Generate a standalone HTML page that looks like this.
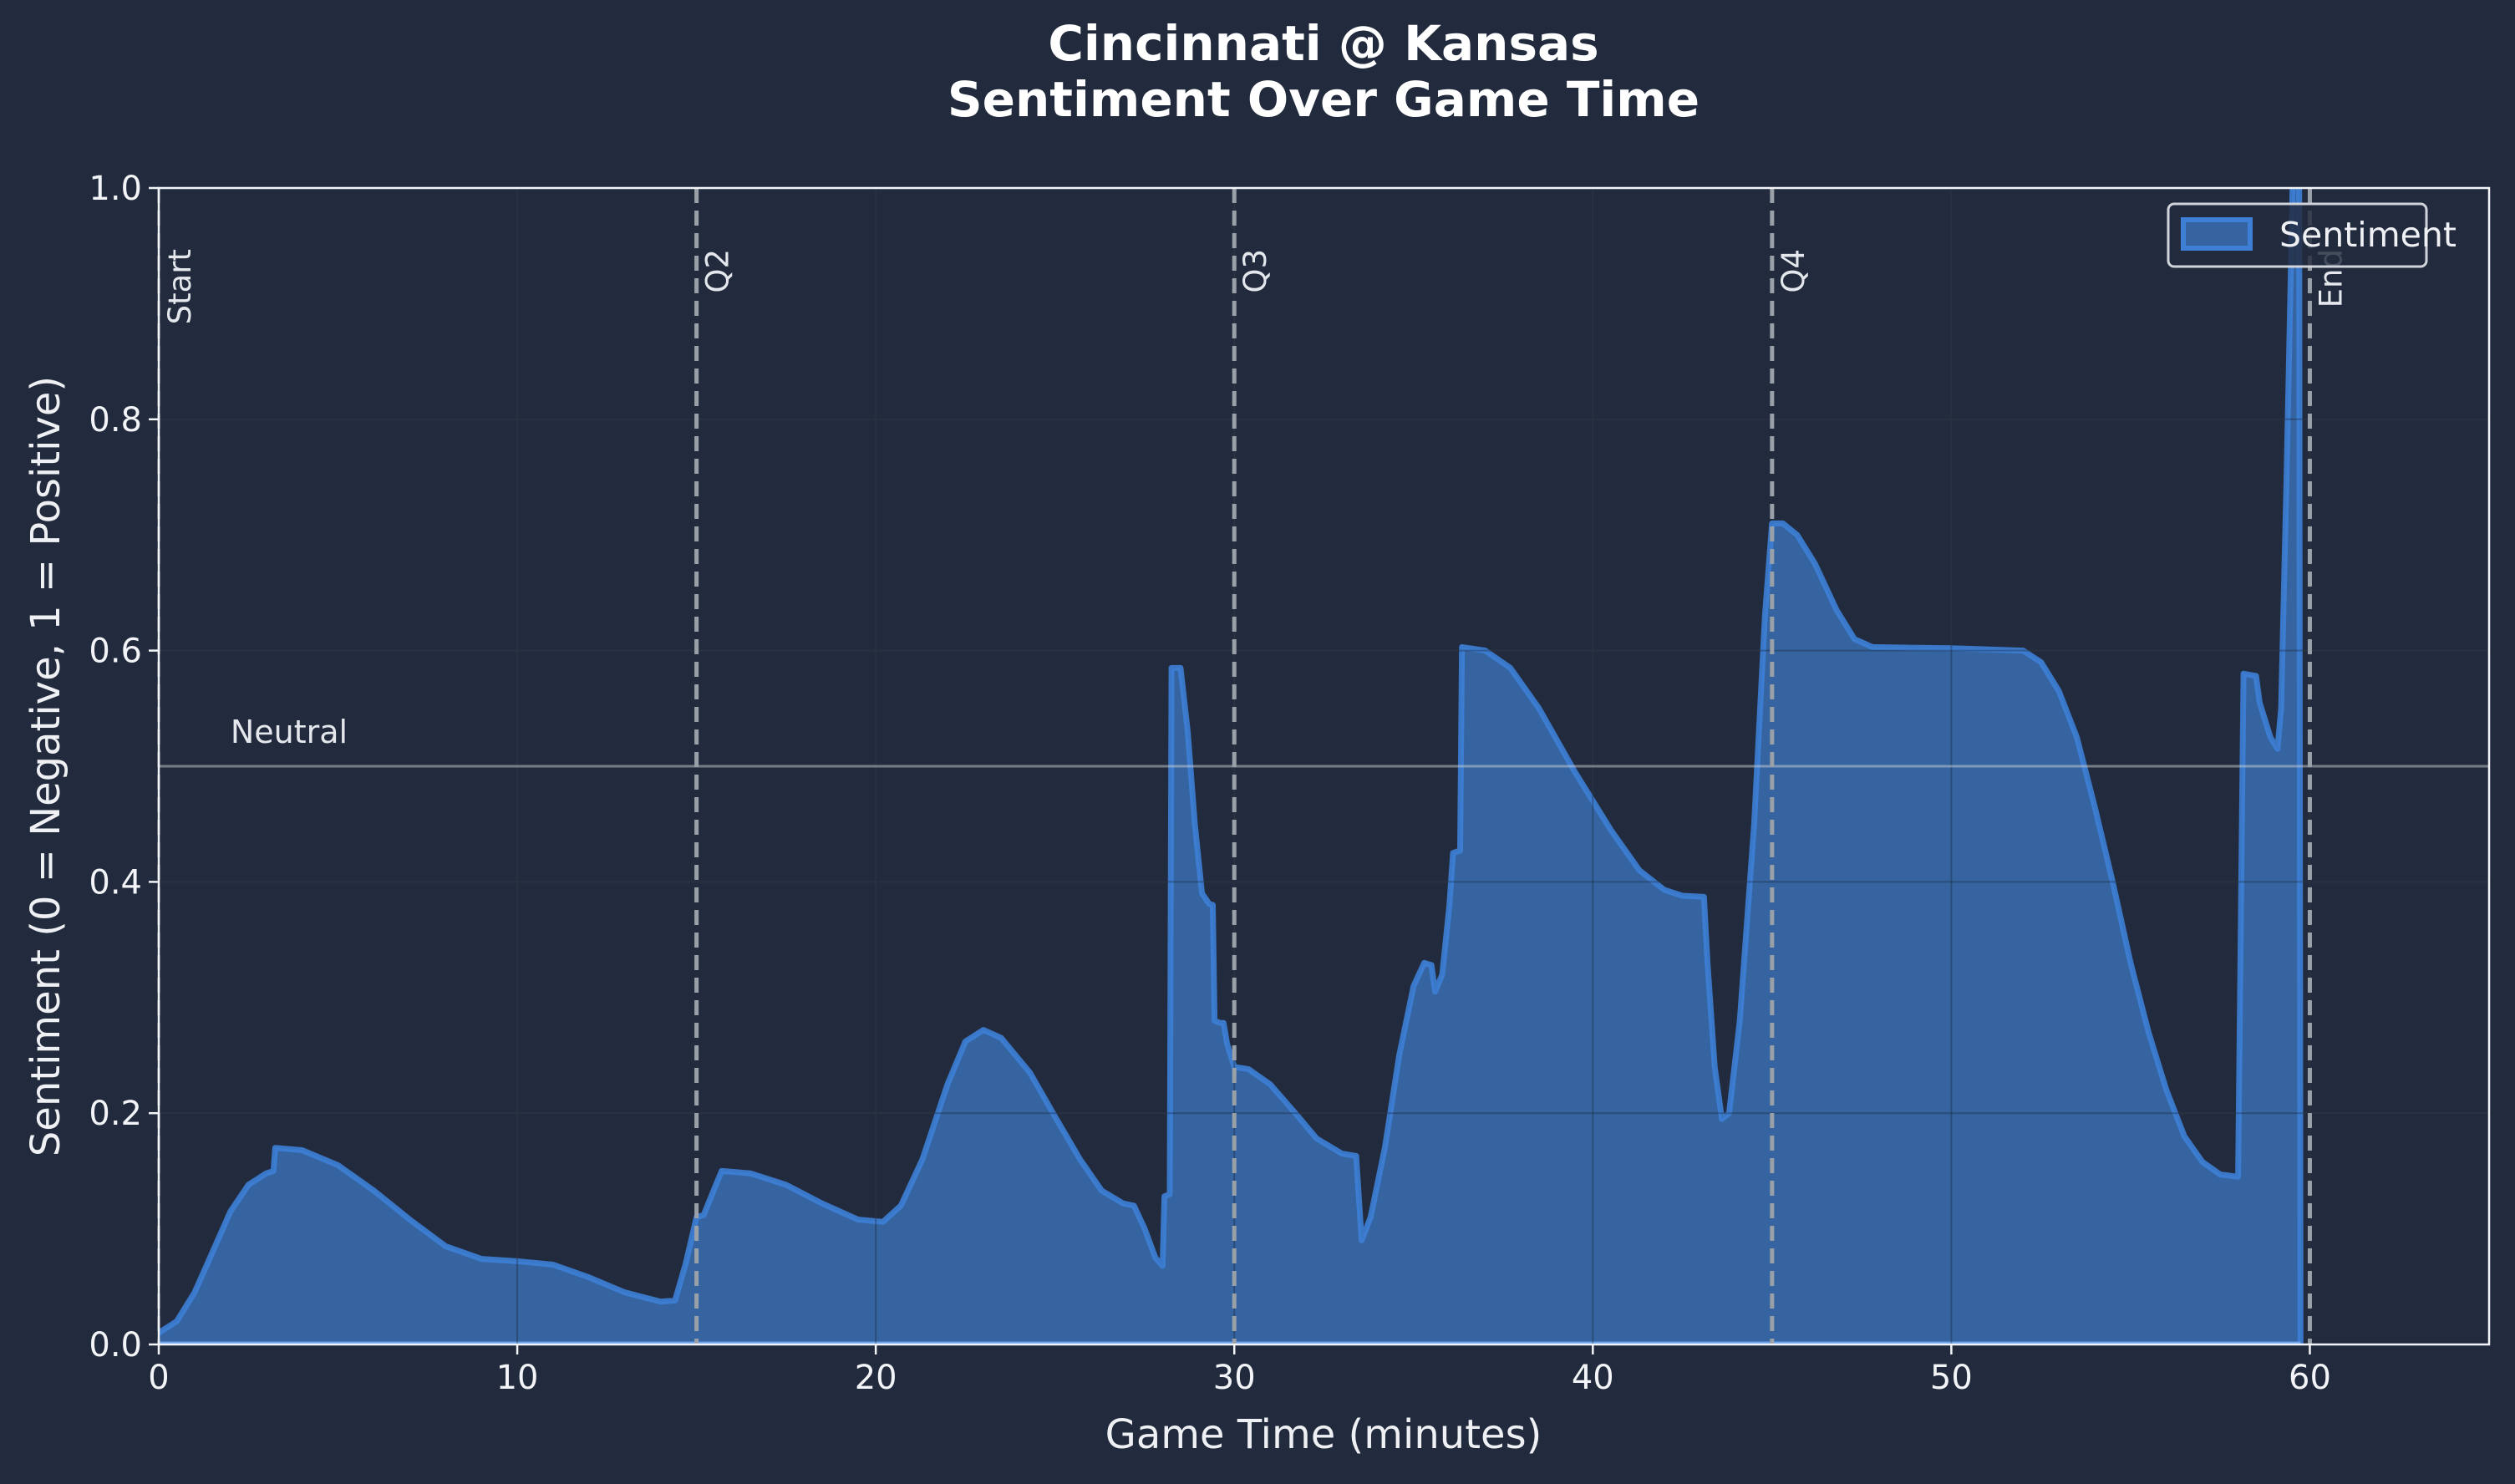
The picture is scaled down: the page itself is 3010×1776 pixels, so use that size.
<!DOCTYPE html>
<html><head><meta charset="utf-8"><style>
html,body{margin:0;padding:0;background:#222b3d;}
svg{display:block;font-family:"DejaVu Sans","Liberation Sans",sans-serif;}
</style></head><body>
<svg id="chart" width="3010" height="1776" viewBox="0 0 3010 1776" xmlns="http://www.w3.org/2000/svg">
<rect x="0" y="0" width="3010" height="1776" fill="#222b3d"/>
<g id="grid"></g>
<g id="series"></g>
<g id="grid2"></g>
<g id="overlay"></g>
<g id="axes"></g>
<text x="1584" y="72" text-anchor="middle" font-size="58" font-weight="bold" fill="#ffffff">Cincinnati @ Kansas</text>
<text x="1584" y="139" text-anchor="middle" font-size="58" font-weight="bold" fill="#ffffff">Sentiment Over Game Time</text>
<text x="1584" y="1733" text-anchor="middle" font-size="48" fill="#eef0f4">Game Time (minutes)</text>
<text transform="translate(58,917) rotate(-90)" text-anchor="middle" dominant-baseline="middle" font-size="48" fill="#eef0f4">Sentiment (0 = Negative, 1 = Positive)</text>
<g>
<rect x="2595" y="244" width="309" height="75" rx="7" fill="rgba(34,43,61,0.82)" stroke="#d0d4da" stroke-width="3"/>
<rect x="2613" y="263" width="80" height="34" fill="#3564a0" stroke="#3d7fd6" stroke-width="6"/>
<text x="2728" y="295" font-size="41" fill="#eef0f4">Sentiment</text>
</g>
</svg>
<script>
const times = [0,0.5,1,1.5,2,2.5,3,3.2,3.25,4,5,6,7,8,9,10,11,12,13,14,14.4,14.7,15,15.2,15.5,15.7,16.5,17.5,18.5,19.5,20.2,20.7,21.3,22,22.5,23,23.5,24.3,25,25.7,26.3,26.9,27.2,27.5,27.8,28,28.05,28.2,28.25,28.5,28.7,28.9,29.1,29.3,29.4,29.45,29.6,29.7,29.8,30,30.4,31,31.7,32.3,33,33.4,33.55,33.8,34.2,34.6,35,35.3,35.5,35.6,35.8,36,36.1,36.3,36.35,37,37.7,38.5,39.5,40.5,41.3,42,42.5,43.1,43.2,43.4,43.6,43.8,44.1,44.5,44.8,45,45.3,45.7,46.2,46.8,47.3,47.8,50,52,52.5,53,53.5,54,54.5,55,55.5,56,56.5,57,57.5,58,58.15,58.5,58.6,58.9,59.1,59.2,59.35,59.55,59.7,59.74];
const sentiment = [0.01,0.02,0.045,0.08,0.115,0.138,0.148,0.15,0.17,0.168,0.155,0.133,0.108,0.085,0.074,0.072,0.069,0.058,0.045,0.037,0.038,0.07,0.11,0.112,0.135,0.15,0.148,0.138,0.122,0.108,0.106,0.12,0.16,0.225,0.262,0.272,0.265,0.235,0.197,0.16,0.133,0.122,0.12,0.1,0.075,0.068,0.128,0.13,0.585,0.585,0.53,0.45,0.39,0.381,0.38,0.28,0.278,0.278,0.26,0.24,0.238,0.225,0.2,0.178,0.165,0.163,0.09,0.11,0.17,0.25,0.31,0.33,0.328,0.305,0.32,0.38,0.425,0.427,0.603,0.6,0.585,0.55,0.495,0.445,0.41,0.393,0.388,0.387,0.33,0.24,0.195,0.2,0.28,0.45,0.63,0.71,0.71,0.7,0.675,0.635,0.61,0.603,0.602,0.6,0.59,0.565,0.525,0.465,0.4,0.33,0.27,0.22,0.18,0.158,0.147,0.145,0.58,0.578,0.555,0.525,0.515,0.55,0.75,1.05,1.05,0.0];
const xTicks = [0,10,20,30,40,50,60];
const yTicks = [0,0.2,0.4,0.6,0.8,1.0];
const yTickLabels = ["0.0","0.2","0.4","0.6","0.8","1.0"];
const periodTimes = [0,15,30,45,60];
const periodLabels = ["Start","Q2","Q3","Q4","End"];
const neutralValue = 0.5;

const L=190,R=2979,T=225,B=1609,XMAX=65;
const X=t=>L+t*(R-L)/XMAX;
const Y=v=>B-v*(B-T);
const NS="http://www.w3.org/2000/svg";
function mk(parent,tag,attrs){const e=document.createElementNS(NS,tag);for(const k in attrs)e.setAttribute(k,attrs[k]);document.getElementById(parent).appendChild(e);return e;}

// grid (light under, dark over)
[['grid','rgba(110,120,135,0.18)'],['grid2','rgba(25,35,50,0.35)']].forEach(([g,c])=>{
xTicks.forEach(t=>{const e=mk(g,'line',{x1:X(t),x2:X(t),y1:T,y2:B,stroke:c,'stroke-width':2});

});
yTicks.forEach(v=>{const e=mk(g,'line',{x1:L,x2:R,y1:Y(v),y2:Y(v),stroke:c,'stroke-width':2});

});
});

// series
const clip=mk('series','clipPath',{id:'plotclip'});
const cr=document.createElementNS(NS,'rect');cr.setAttribute('x',L);cr.setAttribute('y',T);cr.setAttribute('width',R-L);cr.setAttribute('height',B-T);clip.appendChild(cr);
let d='M'+X(times[0])+','+Y(0);
times.forEach((t,i)=>{d+=' L'+X(t).toFixed(1)+','+Y(sentiment[i]).toFixed(1);});
d+=' L'+X(times[times.length-1])+','+Y(0)+' Z';
const area=mk('series','path',{d:d,fill:'#3564a0','clip-path':'url(#plotclip)'});


let dl='';
times.forEach((t,i)=>{dl+=(i?' L':'M')+X(t).toFixed(1)+','+Y(sentiment[i]).toFixed(1);});
const line=mk('series','path',{d:dl,fill:'none',stroke:'#3d7fd6','stroke-width':7,'stroke-opacity':0.9,'stroke-linejoin':'round','clip-path':'url(#plotclip)'});


const base=mk('series','line',{x1:L,x2:X(times[times.length-1]),y1:B-2,y2:B-2,stroke:'#6aa4ef','stroke-width':3});



// neutral line
const nl=mk('overlay','line',{x1:L,x2:R,y1:Y(neutralValue),y2:Y(neutralValue),stroke:'rgba(200,205,212,0.5)','stroke-width':3});


const nt=mk('overlay','text',{x:X(2),y:Y(neutralValue)-28,'font-size':38,fill:'#e4e7ec'});
nt.textContent='Neutral';



// period lines
periodTimes.forEach((t,i)=>{
 const e=mk('overlay','line',{x1:X(t),x2:X(t),y1:T,y2:B,stroke:'#9aa0a8','stroke-width':i===0?3:5,'stroke-dasharray':'18,9'});
 
 
 const px=X(t)+38, py=298;
 const tx=mk('overlay','text',{transform:'translate('+px+','+py+') rotate(-90)','text-anchor':'end','font-size':37,fill:'#e4e7ec'});
 tx.textContent=periodLabels[i];
 
 
});

// axes frame
const fr=mk('axes','rect',{x:L,y:T,width:R-L,height:B-T,fill:'none',stroke:'#f2f4f7','stroke-width':2.5});


xTicks.forEach(t=>{
 const tk=mk('axes','line',{x1:X(t),x2:X(t),y1:B,y2:B+12,stroke:'#f2f4f7','stroke-width':2.5});
 
 
 const lb=mk('axes','text',{x:X(t),y:1662,'text-anchor':'middle','font-size':40,fill:'#f2f4f7'});
 lb.textContent=String(t);
 
 
});
yTicks.forEach((v,i)=>{
 const tk=mk('axes','line',{x1:L-12,x2:L,y1:Y(v),y2:Y(v),stroke:'#f2f4f7','stroke-width':2.5});
 
 
 const lb=mk('axes','text',{x:L-20,y:Y(v)+14,'text-anchor':'end','font-size':40,fill:'#f2f4f7'});
 lb.textContent=yTickLabels[i];
 
 
});
</script>
</body></html>
